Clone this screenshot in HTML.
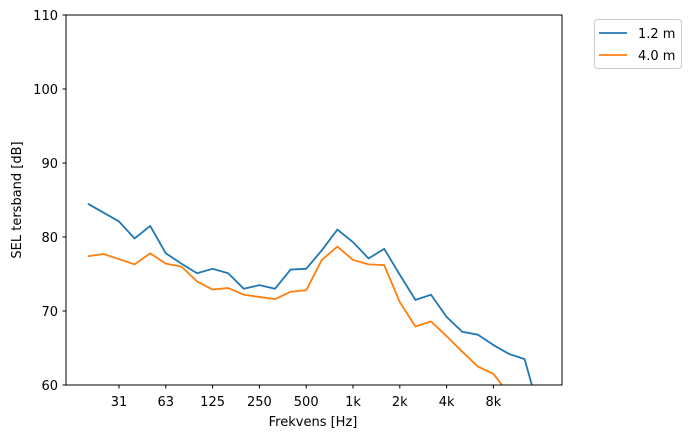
<!DOCTYPE html>
<html><head><meta charset="utf-8"><style>
body{margin:0;background:#fff;font-family:"Liberation Sans","DejaVu Sans",sans-serif}
svg text{font-family:"DejaVu Sans","Liberation Sans",sans-serif;font-size:13px;fill:#000}
</style></head><body>
<svg id="chart" width="693" height="438">
<defs><clipPath id="clip"><rect x="66" y="15" width="496" height="370"/></clipPath></defs>
<g id="axes"></g>
<g id="series" clip-path="url(#clip)"></g>
<rect x="66" y="15" width="496" height="370" fill="none" stroke="#000" stroke-width="1"/>
<text x="313" y="426" text-anchor="middle">Frekvens [Hz]</text>
<text transform="translate(21,200) rotate(-90)" text-anchor="middle">SEL tersband [dB]</text>
<g>
<rect x="594.5" y="19.5" width="87" height="49" rx="3" fill="#fff" stroke="#ccc"/>
<line x1="599" y1="33" x2="627" y2="33" stroke="#1f77b4" stroke-width="1.8"/>
<text x="638" y="38">1.2 m</text>
<line x1="599" y1="55" x2="627" y2="55" stroke="#ff7f0e" stroke-width="1.8"/>
<text x="638" y="60">4.0 m</text>
</g>
</svg>
<script>
const yTicks=[60,70,80,90,100,110];
const xTickLabels=["31","63","125","250","500","1k","2k","4k","8k"];
const xTickIndex=[2,5,8,11,14,17,20,23,26];
const series1=[84.5,83.3,82.1,79.8,81.5,77.8,76.4,75.1,75.7,75.1,73.0,73.5,73.0,75.6,75.7,78.2,81.0,79.3,77.1,78.4,74.9,71.5,72.2,69.2,67.2,66.8,65.4,64.2,63.5,56];
const series2=[77.4,77.7,77.0,76.3,77.8,76.4,76.0,74.0,72.9,73.1,72.2,71.9,71.6,72.6,72.8,76.9,78.7,76.9,76.3,76.2,71.2,67.9,68.6,66.6,64.5,62.5,61.5,58.8,57,55];
const NS="http://www.w3.org/2000/svg";
const xs=i=>119+(i-2)*15.6;
const ys=v=>385-(v-60)*7.4;
const axes=document.getElementById('axes'),ser=document.getElementById('series');
function mk(t,a,p){const e=document.createElementNS(NS,t);for(const k in a)e.setAttribute(k,a[k]);p.appendChild(e);return e;}
yTicks.forEach(v=>{
 const y=ys(v);
 const l=mk('line',{x1:62.5,x2:66,y1:y,y2:y,stroke:'#000'},axes);
 
 
 const t=mk('text',{x:58,y:y+5,'text-anchor':'end'},axes);t.textContent=v;
 
 
});
xTickIndex.forEach((idx,k)=>{
 const x=xs(idx);
 const l=mk('line',{x1:x,x2:x,y1:385,y2:388.5,stroke:'#000'},axes);
 
 
 const t=mk('text',{x:x,y:406,'text-anchor':'middle'},axes);t.textContent=xTickLabels[k];
 
 
});
[[series1,'#1f77b4','line-1-2m'],[series2,'#ff7f0e','line-4-0m']].forEach(([d,c,n])=>{
 const p=mk('polyline',{points:d.map((v,i)=>xs(i)+','+ys(v)).join(' '),fill:'none',stroke:c,'stroke-width':1.8,'stroke-linejoin':'round'},ser);
 
 
});
</script>
</body></html>
